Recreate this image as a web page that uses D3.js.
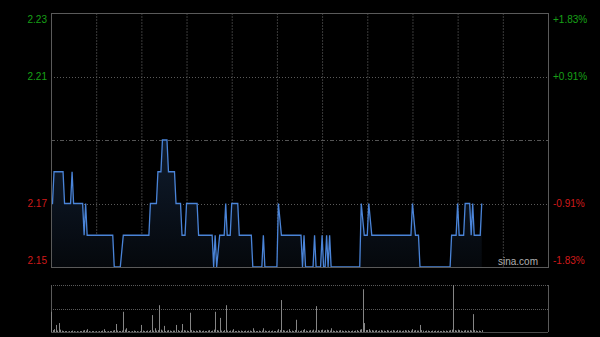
<!doctype html>
<html>
<head>
    <meta charset="utf-8">
    <style>
        body {
            margin: 0;
            background: #000;
        }

        svg text {
            font-family: "Liberation Sans", Arial, sans-serif;
            font-size: 10px;
        }
    </style>

    <script src="https://d3js.org/d3.v7.min.js"></script>
</head>

<body>

    <script>

        // previous close and price grid
        var prevClose = 2.19;
        var priceTicks = [2.15, 2.17, 2.21, 2.23];

        // intraday points: minute since 9:30 (lunch removed), price
        var minutes = [0, 1, 2, 8, 9, 13, 14, 15, 21, 22, 23, 24, 41, 42, 46, 48, 65, 66, 70, 71,
            73, 74, 77, 78, 82, 83, 86, 87, 89, 90, 97, 98, 107, 108, 109, 110, 112, 115, 116, 117,
            119, 120, 124, 125, 133, 134, 140, 141, 142, 150, 151, 153, 166, 167, 168, 169, 174, 175, 176, 179,
            180, 181, 182, 183, 184, 185, 186, 205, 206, 208, 210, 211, 213, 239, 240, 242, 244, 245, 265, 266,
            269, 270, 271, 274, 275, 278, 279, 280, 281, 285, 286];
        var prices = [2.17, 2.17, 2.18, 2.18, 2.17, 2.17, 2.18, 2.17, 2.17, 2.16, 2.17, 2.16, 2.16, 2.15, 2.15, 2.16, 2.16, 2.17, 2.17, 2.18,
            2.18, 2.19, 2.19, 2.18, 2.18, 2.17, 2.17, 2.16, 2.16, 2.17, 2.17, 2.16, 2.16, 2.15, 2.16, 2.15, 2.16, 2.16, 2.17, 2.16,
            2.16, 2.17, 2.17, 2.16, 2.16, 2.15, 2.15, 2.16, 2.15, 2.15, 2.17, 2.16, 2.16, 2.15, 2.16, 2.15, 2.15, 2.16, 2.15, 2.15,
            2.16, 2.15, 2.15, 2.16, 2.15, 2.16, 2.15, 2.15, 2.17, 2.16, 2.16, 2.17, 2.16, 2.16, 2.17, 2.16, 2.16, 2.15, 2.15, 2.16,
            2.16, 2.17, 2.16, 2.16, 2.17, 2.17, 2.16, 2.17, 2.16, 2.16, 2.17];

        // volume per minute (relative units)
        var volumes = [43, 4, 6, 15, 3, 19, 5, 3, 2, 2,
            2, 1, 2, 2, 3, 2, 1, 2, 1, 2,
            2, 3, 4, 3, 6, 2, 1, 2, 2, 1,
            2, 1, 2, 2, 3, 6, 2, 1, 2, 2,
            2, 3, 4, 17, 3, 2, 2, 3, 43, 5,
            8, 2, 2, 1, 2, 3, 2, 2, 1, 2,
            15, 3, 2, 2, 3, 2, 4, 36, 3, 8,
            3, 4, 57, 5, 3, 13, 2, 3, 4, 3,
            2, 3, 3, 15, 4, 2, 3, 17, 4, 3,
            3, 2, 41, 4, 3, 2, 3, 2, 4, 3,
            2, 3, 2, 2, 3, 4, 2, 3, 5, 43,
            4, 3, 30, 3, 2, 4, 57, 3, 2, 3,
            3, 6, 2, 2, 3, 2, 3, 2, 2, 3,
            2, 3, 3, 2, 8, 3, 2, 2, 3, 2,
            3, 8, 3, 2, 2, 3, 2, 3, 2, 2,
            3, 6, 4, 68, 4, 3, 2, 3, 6, 2,
            3, 2, 4, 26, 3, 2, 3, 4, 6, 3,
            2, 3, 4, 3, 5, 3, 55, 4, 3, 4,
            5, 3, 4, 5, 4, 3, 8, 3, 2, 3,
            2, 3, 4, 3, 2, 3, 2, 3, 2, 2,
            3, 2, 3, 4, 2, 5, 6, 91, 19, 4,
            4, 6, 3, 4, 3, 3, 4, 2, 3, 4,
            3, 3, 2, 4, 3, 2, 3, 4, 3, 2,
            4, 3, 3, 2, 3, 4, 3, 4, 2, 3,
            6, 3, 4, 3, 3, 15, 4, 3, 2, 3,
            3, 2, 2, 3, 2, 3, 2, 3, 2, 2,
            3, 2, 3, 2, 3, 4, 5, 100, 4, 3,
            5, 4, 3, 2, 3, 4, 3, 3, 4, 3,
            38, 4, 3, 2, 3, 2, 4];

        var width = 600, height = 337;
        var plotLeft = 51, plotRight = 548, plotTop = 13, plotBottom = 267;
        var volTop = 285, volBottom = 332;
        var green = "#17a017", red = "#d01a1a";

        var svg = d3.select("body")
            .append("svg")
            .attr("width", width)
            .attr("height", height)
            .style("background", "#000");

        var x = d3.scaleLinear().domain([0, 330]).range([plotLeft, plotRight]);
        var y = d3.scaleLinear().domain([2.15, 2.23]).range([plotBottom, plotTop]);
        var yVol = d3.scaleLinear().domain([0, 100]).range([volBottom, volTop]);

        var points = minutes.map(function (m, i) { return [m, prices[i]]; });

        // vertical grid every 30 minutes
        var vgrid = svg.append("g")
            .attr("transform", "translate(0," + plotBottom + ")")
            .call(d3.axisBottom(x).tickValues(d3.range(30, 330, 30)).tickSize(-(plotBottom - plotTop)).tickFormat(""));
        vgrid.select(".domain").remove();
        vgrid.selectAll("line")
            .attr("stroke", "#3a3a3a")
            .attr("stroke-dasharray", "2,1");

        // horizontal grid
        svg.selectAll(".hgrid")
            .data([2.17, 2.21])
            .enter()
            .append("line")
            .attr("x1", plotLeft).attr("x2", plotRight)
            .attr("y1", function (d) { return Math.round(y(d)) + 0.5; })
            .attr("y2", function (d) { return Math.round(y(d)) + 0.5; })
            .attr("stroke", "#5a5a5a")
            .attr("stroke-dasharray", "1,2");

        svg.append("line")
            .attr("x1", plotLeft).attr("x2", plotRight)
            .attr("y1", Math.round(y(prevClose)) + 0.5)
            .attr("y2", Math.round(y(prevClose)) + 0.5)
            .attr("stroke", "#555")
            .attr("stroke-dasharray", "4,2,1,2");

        // area + line
        var defs = svg.append("defs");
        var grad = defs.append("linearGradient")
            .attr("id", "fillGrad")
            .attr("gradientUnits", "userSpaceOnUse")
            .attr("x1", 0).attr("y1", plotTop).attr("x2", 0).attr("y2", plotBottom);
        grad.append("stop").attr("offset", "0%").attr("stop-color", "#1a3050");
        grad.append("stop").attr("offset", "100%").attr("stop-color", "#05080c");

        svg.append("path")
            .datum(points)
            .attr("fill", "url(#fillGrad)")
            .attr("d", d3.area()
                .x(function (d) { return x(d[0]); })
                .y0(plotBottom)
                .y1(function (d) { return y(d[1]); }));

        svg.append("path")
            .datum(points)
            .attr("fill", "none")
            .attr("stroke", "#4a84d8")
            .attr("stroke-width", 1.3)
            .attr("d", d3.line()
                .x(function (d) { return x(d[0]); })
                .y(function (d) { return y(d[1]); }));

        // border
        svg.append("rect")
            .attr("x", plotLeft + 0.5).attr("y", plotTop + 0.5)
            .attr("width", plotRight - plotLeft).attr("height", plotBottom - plotTop)
            .attr("fill", "none")
            .attr("stroke", "#5a5a5a");

        // left price labels
        var yAxisL = svg.append("g")
            .attr("transform", "translate(" + (plotLeft - 4) + ",0)")
            .call(d3.axisLeft(y).tickValues(priceTicks).tickSize(0).tickPadding(0).tickFormat(d3.format(".2f")));
        yAxisL.select(".domain").remove();
        yAxisL.selectAll("text")
            .attr("font-size", 10)
            .attr("font-family", "'Liberation Sans', Arial, sans-serif")
            .attr("fill", function (d) { return d > prevClose ? green : red; })
            .attr("y", function (d) { return d === 2.23 ? 6 : (d === 2.15 ? -7 : 0); });

        // right percent labels
        var pct = d3.format("+.2f");
        var yAxisR = svg.append("g")
            .attr("transform", "translate(" + (plotRight + 5) + ",0)")
            .call(d3.axisRight(y).tickValues(priceTicks).tickSize(0).tickPadding(0)
                .tickFormat(function (d) {
                    return pct((d - prevClose) / prevClose * 100).replace("\u2212", "-") + "%";
                }));
        yAxisR.select(".domain").remove();
        yAxisR.selectAll("text")
            .attr("font-size", 10)
            .attr("font-family", "'Liberation Sans', Arial, sans-serif")
            .attr("fill", function (d) { return d > prevClose ? green : red; })
            .attr("y", function (d) { return d === 2.23 ? 6 : (d === 2.15 ? -7 : 0); });

        // watermark
        svg.append("text")
            .attr("x", 498)
            .attr("y", 265)
            .attr("fill", "#b0b0b0")
            .text("sina.com");

        // volume panel
        svg.selectAll(".vgridline")
            .data([volTop, (volTop + volBottom) / 2])
            .enter()
            .append("line")
            .attr("x1", plotLeft).attr("x2", plotRight)
            .attr("y1", function (d) { return Math.round(d) + 0.5; })
            .attr("y2", function (d) { return Math.round(d) + 0.5; })
            .attr("stroke", "#5a5a5a")
            .attr("stroke-dasharray", "1,1");

        svg.append("line")
            .attr("x1", plotLeft).attr("x2", plotRight)
            .attr("y1", volBottom + 0.5).attr("y2", volBottom + 0.5)
            .attr("stroke", "#4a4a4a");
        svg.selectAll(".vside")
            .data([plotLeft, plotRight])
            .enter()
            .append("line")
            .attr("x1", function (d) { return d + 0.5; })
            .attr("x2", function (d) { return d + 0.5; })
            .attr("y1", volTop).attr("y2", volBottom)
            .attr("stroke", "#5a5a5a");

        svg.selectAll(".vol")
            .data(volumes)
            .enter()
            .append("line")
            .attr("x1", function (d, i) { return Math.round(x(i)) + 0.5; })
            .attr("x2", function (d, i) { return Math.round(x(i)) + 0.5; })
            .attr("y1", yVol(0))
            .attr("y2", function (d) { return yVol(d); })
            .attr("stroke", "#858585")
            .attr("stroke-width", 1);

    </script>
</body>

</html>
